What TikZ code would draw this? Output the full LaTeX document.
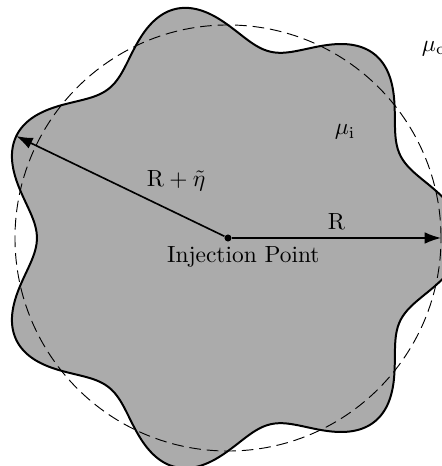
\documentclass[tikz,border=0pt]{standalone}
\usepackage{amsmath,amssymb}
\usepackage{tikz}
\usetikzlibrary{positioning, calc, arrows.meta}

\def\rad{3.2}
\def\amp{0.33}

\tikzset{
  finger/.style={draw=black, line width=0.85pt, fill=black!33},
  basecircle/.style={draw=black, line width=0.4pt, dash pattern=on 5pt off 2.5pt},
  radarrow/.style={-{Latex[length=7pt,width=5pt]}, line width=0.7pt}
}

\begin{document}
\begin{tikzpicture}[>=stealth]
        \useasboundingbox (-3.425,-3.425) rectangle (3.2,3.575);

        % ==========================================
        % Perturbed interface and base circle
        % ==========================================
        \draw[finger] plot[domain=0:360, samples=300, smooth cycle] (\x:{\rad + \amp*cos(7*\x)});
        \draw[basecircle] (0,0) circle (\rad);

        % ==========================================
        % Injection point and radii
        % ==========================================
        \node[circle, fill=black, inner sep=0pt, minimum size=3pt] (inj) at (0,0) {};
        \coordinate (rim) at (\rad,0);
        \coordinate (crest) at (360*3/7:{\rad+\amp});

        \draw[radarrow] (inj) -- (rim) node[midway, above] (rlab) {$\mathrm{R}$};
        \draw[radarrow] (inj) -- (crest);
        \node[inner sep=1pt] (etalab) at (-0.78,0.86) {$\mathrm{R}+\tilde{\eta}$};

        % Labels
        \node[below] (injlab) at (0.23,0) {Injection Point};
        \node (mui) at (1.76,1.59) {$\mu_\mathrm{i}$};
        \node[anchor=west] (muc) at (2.79,2.85) {$\mu_\mathrm{c}$};

\end{tikzpicture}
\end{document}
